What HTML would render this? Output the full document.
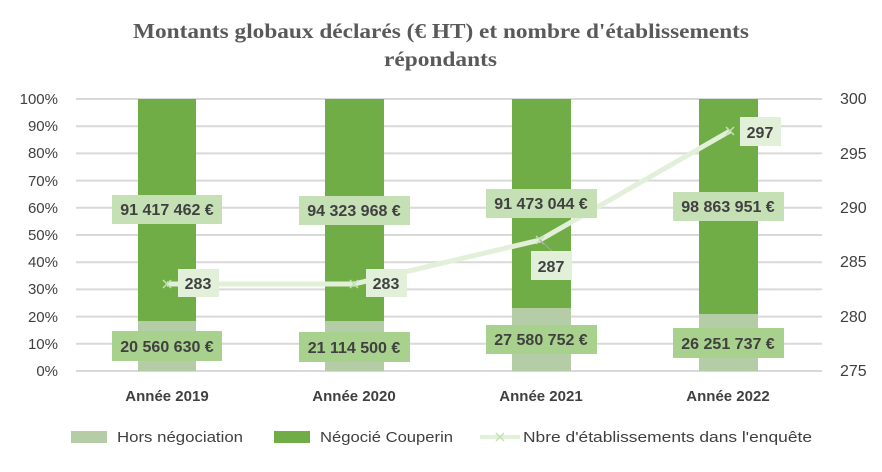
<!DOCTYPE html>
<html><head><meta charset="utf-8"><style>
body{margin:0;background:#fff;}
svg text{font-family:"Liberation Sans",sans-serif;}
</style></head><body>
<svg width="882" height="467" viewBox="0 0 882 467" xmlns="http://www.w3.org/2000/svg">
<rect width="882" height="467" fill="#fff"/>
<text x="133" y="38" textLength="616" lengthAdjust="spacingAndGlyphs" font-size="21" font-weight="bold" fill="#595959" style="font-family:'Liberation Serif',serif">Montants globaux déclarés (€ HT) et nombre d'établissements</text>
<text x="384" y="66" textLength="113" lengthAdjust="spacingAndGlyphs" font-size="21" font-weight="bold" fill="#595959" style="font-family:'Liberation Serif',serif">répondants</text>
<g stroke="#d9d9d9" stroke-width="2">
<line x1="76" x2="822" y1="99" y2="99"/><line x1="76" x2="822" y1="126.2" y2="126.2"/><line x1="76" x2="822" y1="153.4" y2="153.4"/><line x1="76" x2="822" y1="180.6" y2="180.6"/><line x1="76" x2="822" y1="207.8" y2="207.8"/><line x1="76" x2="822" y1="235" y2="235"/><line x1="76" x2="822" y1="262.2" y2="262.2"/><line x1="76" x2="822" y1="289.4" y2="289.4"/><line x1="76" x2="822" y1="316.6" y2="316.6"/><line x1="76" x2="822" y1="343.8" y2="343.8"/><line x1="76" x2="822" y1="371" y2="371"/>
</g>
<g font-size="15" fill="#404040" text-anchor="end">
<text x="58" y="104">100%</text><text x="58" y="131">90%</text><text x="58" y="158">80%</text><text x="58" y="186">70%</text><text x="58" y="213">60%</text><text x="58" y="240">50%</text><text x="58" y="267">40%</text><text x="58" y="294">30%</text><text x="58" y="322">20%</text><text x="58" y="349">10%</text><text x="58" y="376">0%</text>
</g>
<g font-size="16" fill="#404040">
<text x="840" y="104">300</text><text x="840" y="159">295</text><text x="840" y="213">290</text><text x="840" y="267">285</text><text x="840" y="322">280</text><text x="840" y="376">275</text>
</g>
<g fill="#70ad47">
<rect x="138" y="99" width="58" height="272"/><rect x="325" y="99" width="59" height="272"/><rect x="512" y="99" width="59" height="272"/><rect x="699" y="99" width="59" height="272"/>
</g>
<g fill="#b5cda6">
<rect x="138" y="321" width="58" height="50"/><rect x="325" y="321" width="59" height="50"/><rect x="512" y="308" width="59" height="63"/><rect x="699" y="314" width="59" height="57"/>
</g>
<polyline points="167,284 354,284 540,240 730,131" fill="none" stroke="#e2f0d9" stroke-width="5"/>
<g stroke="#c5e0b4" stroke-width="1.5">
<path d="M163,280l8,8M171,280l-8,8M350,280l8,8M358,280l-8,8M536,236l8,8M544,236l-8,8M726,127l8,8M734,127l-8,8"/>
</g>
<line x1="540" y1="240" x2="552" y2="251" stroke="#a6a6a6" stroke-width="1"/>
<g fill="#c5e0b4">
<rect x="112" y="195" width="110" height="29"/><rect x="299" y="196" width="111" height="29"/><rect x="486" y="189" width="111" height="29"/><rect x="673" y="192" width="111" height="29"/>
</g>
<g fill="#a9d18e">
<rect x="112" y="331" width="110" height="30"/><rect x="299" y="332" width="111" height="30"/><rect x="486" y="325" width="111" height="29"/><rect x="673" y="328" width="111" height="30"/>
</g>
<g fill="#e2f0d9">
<rect x="178" y="269" width="41" height="28"/><rect x="366" y="269" width="41" height="28"/><rect x="531" y="251" width="41" height="29"/><rect x="740" y="117" width="41" height="29"/>
</g>
<g font-size="16" font-weight="bold" fill="#404040" text-anchor="middle">
<text x="167" y="215">91 417 462 €</text><text x="354" y="216">94 323 968 €</text><text x="541" y="209">91 473 044 €</text><text x="728" y="212">98 863 951 €</text>
<text x="167" y="352">20 560 630 €</text><text x="354" y="353">21 114 500 €</text><text x="541" y="345">27 580 752 €</text><text x="728" y="349">26 251 737 €</text>
<text x="198" y="289">283</text><text x="386" y="289">283</text><text x="551" y="272">287</text><text x="760" y="138">297</text>
</g>
<g font-size="15" font-weight="bold" fill="#404040" text-anchor="middle">
<text x="167" y="401">Année 2019</text><text x="354" y="401">Année 2020</text><text x="541" y="401">Année 2021</text><text x="728" y="401">Année 2022</text>
</g>
<rect x="71" y="431" width="36" height="12" fill="#b5cda6"/>
<text x="117" y="442" font-size="15" fill="#404040" textLength="126" lengthAdjust="spacingAndGlyphs">Hors négociation</text>
<rect x="274" y="431" width="36" height="12" fill="#70ad47"/>
<text x="320" y="442" font-size="15" fill="#404040" textLength="133" lengthAdjust="spacingAndGlyphs">Négocié Couperin</text>
<line x1="480" y1="437" x2="520" y2="437" stroke="#e2f0d9" stroke-width="4"/>
<path d="M496,433l8,8M504,433l-8,8" stroke="#c5e0b4" stroke-width="1.5"/>
<text x="523" y="442" font-size="15" fill="#404040" textLength="289" lengthAdjust="spacingAndGlyphs">Nbre d'établissements dans l'enquête</text>
</svg>
</body></html>
